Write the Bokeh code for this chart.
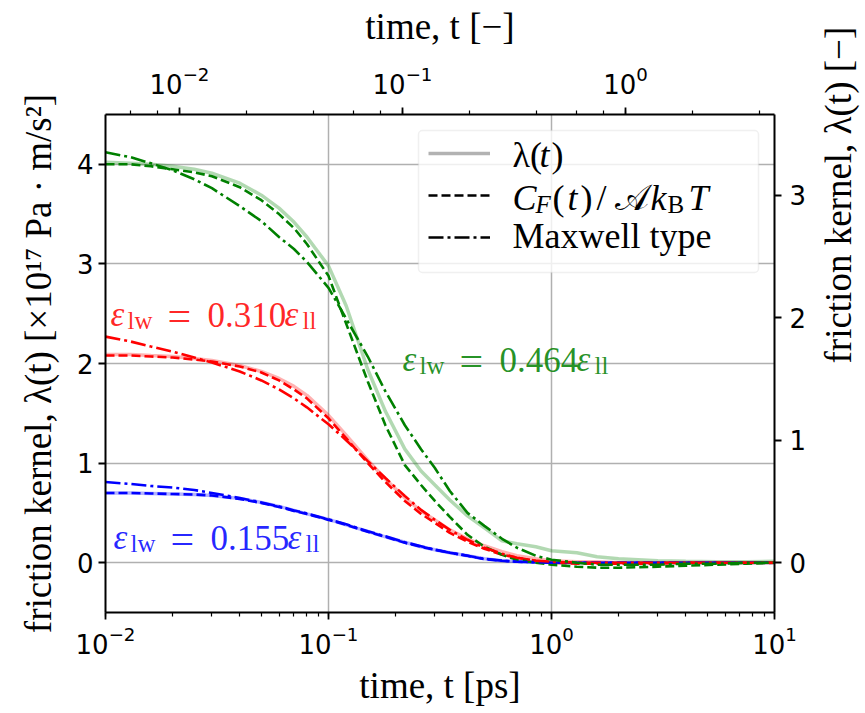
import math
from bokeh.plotting import figure
from bokeh.models import (Range1d, LogScale, LogAxis, LinearAxis, FixedTicker,
                          Legend, LegendItem, Label, ColumnDataSource, BoxAnnotation)
from bokeh.embed import file_html
from bokeh.resources import INLINE

# ---------------- data ----------------
t_ps = [0.010, 0.013, 0.016, 0.020, 0.025, 0.030, 0.040, 0.050, 0.060, 0.070, 0.080,
        0.100, 0.120, 0.150, 0.180, 0.220, 0.260, 0.300, 0.350, 0.420, 0.500,
        0.600, 0.700, 0.850, 1.000, 1.300, 1.600, 2.000, 3.000, 4.000, 5.500, 7.500, 10.00]

green_lambda = [4.02, 4.01, 4.00, 3.98, 3.95, 3.91, 3.81, 3.69, 3.56, 3.42, 3.27,
                2.98, 2.58, 1.94, 1.52, 1.14, 0.92, 0.78, 0.63, 0.47, 0.35,
                0.22, 0.19, 0.16, 0.12, 0.10, 0.06, 0.04, 0.02, 0.015, 0.01, 0.01, 0.015]
green_cf = [4.00, 4.00, 3.98, 3.95, 3.92, 3.88, 3.77, 3.64, 3.50, 3.36, 3.20,
            2.88, 2.40, 1.82, 1.38, 0.98, 0.78, 0.62, 0.46, 0.28, 0.16,
            0.08, 0.03, 0.00, -0.02, -0.04, -0.05, -0.05, -0.04, -0.03, -0.02, -0.01, 0.00]
green_maxwell = [4.12, 4.07, 4.01, 3.94, 3.85, 3.76, 3.58, 3.43, 3.27, 3.15, 3.02,
                 2.76, 2.45, 2.07, 1.72, 1.38, 1.14, 0.95, 0.72, 0.50, 0.37,
                 0.24, 0.15, 0.07, 0.03, 0.00, -0.02, -0.02, -0.02, -0.01, -0.01, 0.00, 0.00]

red_lambda = [2.09, 2.09, 2.08, 2.07, 2.05, 2.03, 1.98, 1.92, 1.85, 1.77, 1.68,
              1.48, 1.28, 1.03, 0.84, 0.65, 0.52, 0.43, 0.33, 0.24, 0.17,
              0.11, 0.07, 0.04, 0.02, 0.01, 0.01, 0.00, 0.00, 0.00, 0.00, 0.00, 0.00]
red_cf = [2.08, 2.08, 2.07, 2.06, 2.04, 2.02, 1.97, 1.91, 1.83, 1.74, 1.65,
          1.45, 1.25, 1.00, 0.81, 0.62, 0.49, 0.40, 0.30, 0.21, 0.14,
          0.08, 0.05, 0.02, 0.00, -0.01, -0.01, -0.01, -0.01, 0.00, 0.00, 0.00, 0.00]
red_maxwell = [2.27, 2.22, 2.17, 2.12, 2.06, 2.01, 1.92, 1.83, 1.74, 1.65, 1.56,
               1.39, 1.23, 1.02, 0.85, 0.67, 0.53, 0.43, 0.33, 0.23, 0.15,
               0.09, 0.05, 0.02, 0.01, 0.00, 0.00, 0.00, 0.00, 0.00, 0.00, 0.00, 0.00]

blue_lambda = [0.70, 0.70, 0.695, 0.69, 0.685, 0.675, 0.645, 0.605, 0.565, 0.525, 0.49,
               0.435, 0.38, 0.315, 0.26, 0.205, 0.16, 0.13, 0.10, 0.07, 0.04,
               0.02, 0.012, 0.006, 0.003, 0.0, 0.0, 0.0, 0.0, 0.0, 0.0, 0.0, 0.0]
blue_cf = [0.70, 0.70, 0.695, 0.69, 0.685, 0.675, 0.64, 0.60, 0.56, 0.52, 0.49,
           0.43, 0.38, 0.31, 0.26, 0.20, 0.16, 0.13, 0.10, 0.07, 0.035,
           0.02, 0.01, 0.005, 0.0, 0.0, 0.0, 0.0, 0.0, 0.0, 0.0, 0.0, 0.0]
blue_maxwell = [0.81, 0.79, 0.77, 0.755, 0.73, 0.70, 0.65, 0.605, 0.565, 0.525, 0.495,
                0.435, 0.385, 0.315, 0.265, 0.205, 0.165, 0.13, 0.10, 0.07, 0.04,
                0.02, 0.01, 0.005, 0.0, 0.0, 0.0, 0.0, 0.0, 0.0, 0.0, 0.0, 0.0]

series_colors = ["blue", "red", "green"]
series_lambda = [blue_lambda, red_lambda, green_lambda]
series_cf = [blue_cf, red_cf, green_cf]
series_maxwell = [blue_maxwell, red_maxwell, green_maxwell]

eps_labels = [("0.310", "red"), ("0.464", "green"), ("0.155", "blue")]

X_RANGE = (0.01, 10.0)
Y_RANGE = (-0.5, 4.5)
LEFT_TICKS = [0, 1, 2, 3, 4]
RIGHT_TICKS = [0, 1, 2, 3]
TIME_SCALE_PS = 2.147      # t[-] = t[ps] / TIME_SCALE_PS
LAMBDA_SCALE = 1.23        # lambda[-] = left value / LAMBDA_SCALE

SERIF = "Liberation Serif"
SANS = "DejaVu Sans"

# ---------------- figure ----------------
p = figure(x_axis_type="log", x_range=Range1d(*X_RANGE), y_range=Range1d(*Y_RANGE),
           frame_width=669, frame_height=498,
           min_border_left=105, min_border_top=114, min_border_right=88, min_border_bottom=96,
           output_backend="svg", toolbar_location=None)
p.background_fill_color = "white"
p.border_fill_color = "white"
p.outline_line_color = None

bottom_axis = p.below[0]
left_axis = p.left[0]

p.extra_x_ranges = {"tstar": Range1d(X_RANGE[0] / TIME_SCALE_PS, X_RANGE[1] / TIME_SCALE_PS)}
p.extra_x_scales = {"tstar": LogScale()}
p.extra_y_ranges = {"lam": Range1d(Y_RANGE[0] / LAMBDA_SCALE, Y_RANGE[1] / LAMBDA_SCALE)}

top_axis = LogAxis(x_range_name="tstar")
right_axis = LinearAxis(y_range_name="lam", ticker=FixedTicker(ticks=RIGHT_TICKS))
p.add_layout(top_axis, "above")
p.add_layout(right_axis, "right")

bottom_axis.axis_label = "time, t [ps]"
top_axis.axis_label = "time, t [−]"
left_axis.axis_label = "friction kernel, λ(t) [×10¹⁷ Pa · m/s²]"
right_axis.axis_label = "friction kernel, λ(t) [−]"
left_axis.ticker = FixedTicker(ticks=LEFT_TICKS)


def style_axis(ax, minor=True):
    ax.axis_line_color = "black"
    ax.axis_line_width = 2
    ax.major_tick_line_color = "black"
    ax.major_tick_line_width = 1.8
    ax.major_tick_out = 7
    ax.major_tick_in = 0
    if minor:
        ax.minor_tick_line_color = "black"
        ax.minor_tick_line_width = 1.2
        ax.minor_tick_out = 4
        ax.minor_tick_in = 0
    else:
        ax.minor_tick_line_color = None
    ax.major_label_text_font = SANS
    ax.major_label_text_font_size = "26px"
    ax.major_label_text_color = "black"
    ax.major_label_standoff = 5
    ax.axis_label_text_font = SERIF
    ax.axis_label_text_font_size = "37px"
    ax.axis_label_text_font_style = "normal"
    ax.axis_label_text_color = "black"


style_axis(bottom_axis)
style_axis(top_axis)
style_axis(left_axis, minor=False)
style_axis(right_axis, minor=False)
bottom_axis.major_label_standoff = 6
bottom_axis.axis_label_standoff = 8
top_axis.major_label_standoff = 14
top_axis.axis_label_standoff = 16
left_axis.axis_label_standoff = 15
right_axis.axis_label_standoff = 29
right_axis.major_label_standoff = 8
try:
    right_axis.axis_label_orientation = math.pi / 2
except Exception:
    pass

for g in (p.xgrid[0], p.ygrid[0]):
    g.grid_line_color = "#b0b0b0"
    g.grid_line_width = 1.5

# ---------------- curves ----------------
for c, ys in zip(series_colors, series_lambda):
    p.line(t_ps, ys, line_color=c, line_alpha=0.3, line_width=3.5)
for c, ys in zip(series_colors, series_cf):
    p.line(t_ps, ys, line_color=c, line_width=2.6, line_dash="9 4")
for c, ys in zip(series_colors, series_maxwell):
    p.line(t_ps, ys, line_color=c, line_width=2.6, line_dash="15 4 3 4")

# ---------------- legend ----------------
# frame of the legend: a translucent box drawn below the legend texts
legend_box = BoxAnnotation(left=313, right=653, bottom=340, top=482,
                           left_units="screen", right_units="screen",
                           bottom_units="screen", top_units="screen",
                           fill_color="white", fill_alpha=0.8,
                           line_color="#cccccc", line_width=1.5, level="guide")
try:
    legend_box.border_radius = 4
except Exception:
    pass
p.add_layout(legend_box)

# one-point sources draw nothing in the frame but give the legend its glyphs
stub = ColumnDataSource(data=dict(x=t_ps[:1], y=green_cf[:1]))
r1 = p.line("x", "y", source=stub, line_color="black", line_alpha=0.3, line_width=3.5)
r2 = p.line("x", "y", source=stub, line_color="black", line_width=2.6, line_dash="9 4")
r3 = p.line("x", "y", source=stub, line_color="black", line_width=2.6, line_dash="15 4 3 4")
legend = Legend(items=[LegendItem(label=" ", renderers=[r1]),
                       LegendItem(label=" ", renderers=[r2]),
                       LegendItem(label=" ", renderers=[r3])],
                location=(323, 356), padding=0, spacing=4, margin=0,
                glyph_width=62, glyph_height=38, label_height=38, label_width=200,
                label_standoff=22, label_text_font_size="10px",
                border_line_color=None, background_fill_alpha=0.0)
p.add_layout(legend, "center")

FRAME_LEFT_PAGE, FRAME_BOTTOM_PAGE = 105, 612
TEXT_SHIFT = 13


def piece(text, X, Y, size, color="black", italic=False, alpha=1.0):
    p.add_layout(Label(x=X - FRAME_LEFT_PAGE, y=FRAME_BOTTOM_PAGE - (Y - TEXT_SHIFT),
                       x_units="screen", y_units="screen", text=text,
                       text_font=SERIF, text_font_size=f"{size}px",
                       text_font_style="italic" if italic else "normal",
                       text_color=color, text_alpha=alpha,
                       text_baseline="alphabetic", text_align="left"))


# legend texts
piece("λ(", 512, 167, 36)
piece("t", 539, 167, 36, italic=True)
piece(")", 551, 167, 36)
piece("C", 512, 210, 36, italic=True)
piece("F", 535, 217, 25, italic=True)
piece("(", 552, 210, 36)
piece("t", 567, 210, 36, italic=True)
piece(")", 580, 210, 36)
piece("/", 596, 210, 36)
piece("𝒜", 614, 210, 36)
piece("k", 650, 210, 36, italic=True)
piece("B", 667, 217, 25)
piece("T", 688, 210, 36, italic=True)
piece("Maxwell type", 512, 248, 36)

# epsilon annotations
anchors = {"red": (110, 327), "green": (402, 372), "blue": (113, 550)}
for val, col in eps_labels:
    X0, Y0 = anchors[col]
    piece("ε", X0, Y0, 35, col, italic=True, alpha=0.85)
    piece("lw", X0 + 17, Y0 + 6, 25, col, alpha=0.85)
    piece("=", X0 + 57, Y0 + 1, 42, col, alpha=0.85)
    piece(val, X0 + 97, Y0, 35, col, alpha=0.85)
    piece("ε", X0 + 174, Y0, 35, col, italic=True, alpha=0.85)
    piece("ll", X0 + 192, Y0 + 6, 25, col, alpha=0.85)

open("out.html", "w").write(file_html(p, INLINE))
